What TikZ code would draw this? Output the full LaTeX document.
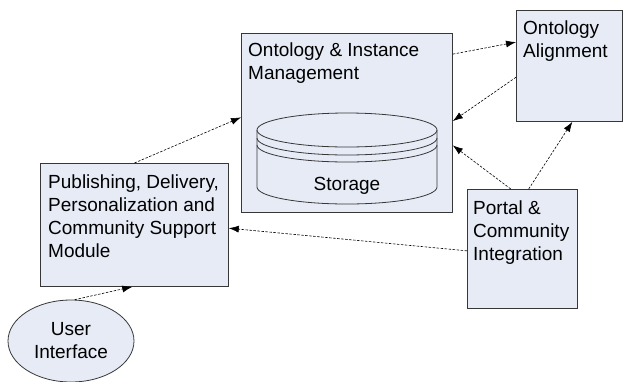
\documentclass[tikz,border=0pt]{standalone}
\usepackage{fontspec}
\setmainfont{Liberation Sans}
\usetikzlibrary{arrows.meta,shapes.geometric}
\definecolor{boxfill}{RGB}{230,235,246}
\definecolor{boxline}{RGB}{55,55,55}

\begin{document}
\begin{tikzpicture}[x=1bp,y=-1bp,
  every node/.style={inner sep=0pt,font=\fontsize{19bp}{23bp}\selectfont},
  box/.style={draw=boxline,fill=boxfill,line width=0.8bp,anchor=north west},
  txt/.style={anchor=north west,align=left},
  link/.style={draw=black,line width=0.6bp,dash pattern=on 2.5bp off 1.5bp,-{Latex[length=10bp,width=7bp]}}]
\useasboundingbox (0,0) rectangle (624,381);
\node [box,minimum width=211bp,minimum height=179bp] (oim) at (241,33) {};
\node [box,minimum width=106bp,minimum height=111bp] (ali) at (516,10) {};
\node [box,minimum width=110bp,minimum height=119bp] (por) at (467,189) {};
\node [box,minimum width=188bp,minimum height=123bp] (pub) at (40,163) {};
\node [draw=boxline,fill=boxfill,line width=0.8bp,ellipse,minimum width=126bp,minimum height=82bp,align=center] (ui) at (71,341) {User\\Interface};
\draw [boxline,line width=0.8bp] (347,130) ellipse [x radius=90bp,y radius=17bp];
\draw [boxline,line width=0.8bp] (257,138) arc [start angle=180,end angle=360,x radius=90bp,y radius=17bp];
\draw [boxline,line width=0.8bp] (257,145) arc [start angle=180,end angle=360,x radius=90bp,y radius=17bp];
\draw [boxline,line width=0.8bp] (257,130) -- (257,187) arc [start angle=180,end angle=360,x radius=90bp,y radius=17bp] -- (437,130);
\node [anchor=base] (stor) at (347,190) {Storage};
\node [txt] (oimtext) at (248,43) {Ontology \& Instance\\Management};
\node [txt] (alitext) at (523,21) {Ontology\\Alignment};
\node [txt] (portext) at (473,201) {Portal \&\\Community\\Integration};
\node [txt] (pubtext) at (48,175) {Publishing, Delivery,\\Personalization and\\Community Support\\Module};
\draw [link] (pub.north) -- (oim.177);
\draw [link] (oim.33) -- (ali.156);
\draw [link] (ali.192) -- (oim.1);
\draw [link] (por.101) -- (oim.-12);
\draw [link] (por.84) -- (ali.-87);
\draw [link] (por.182) -- (pub.-2);
\draw [link] (ui.85) -- (pub.-92);
\end{tikzpicture}
\end{document}
